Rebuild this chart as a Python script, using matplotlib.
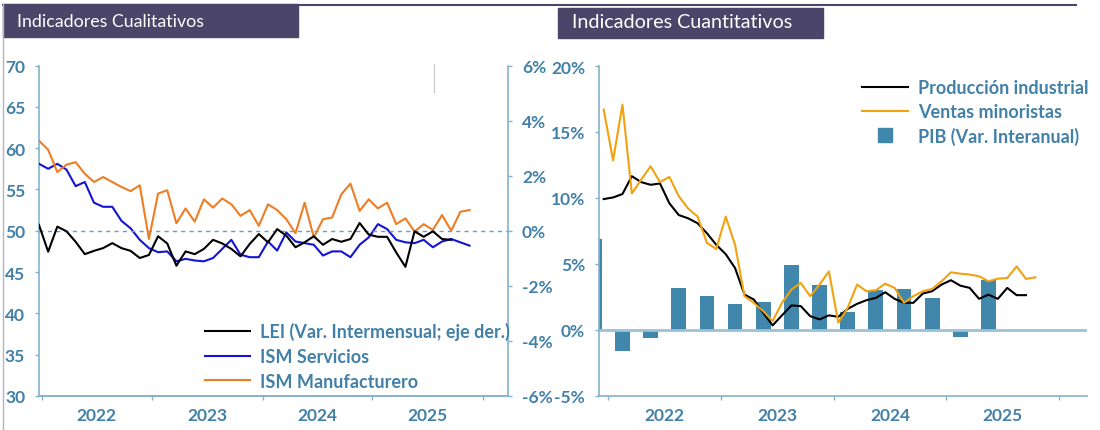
import numpy as np
import matplotlib.pyplot as plt
from matplotlib.lines import Line2D
from matplotlib.patches import Rectangle

# -----------------------------
# DATA
# -----------------------------
# Left panel: monthly, starting Jan 2022
ism_manuf = [60.9, 59.8, 57.1, 58.0, 58.3, 56.9, 55.9, 56.5, 55.9, 55.3, 54.8, 55.5,
             49.0, 54.5, 54.9, 50.9, 52.7, 51.1, 53.8, 52.8, 53.9, 53.2, 51.8, 52.5,
             50.6, 53.2, 52.5, 51.4, 49.7, 53.4, 49.2, 51.4, 51.6, 54.4, 55.7, 52.4,
             53.8, 52.7, 53.4, 50.8, 51.5, 49.9, 50.8, 50.1, 51.9, 50.0, 52.3, 52.5]
ism_serv = [58.1, 57.5, 58.1, 57.4, 55.4, 55.9, 53.4, 52.9, 52.9, 51.2, 50.3, 48.9,
            47.9, 47.4, 47.5, 46.3, 46.6, 46.4, 46.3, 46.7, 47.8, 48.9, 47.1, 46.8,
            46.8, 48.7, 47.6, 49.8, 48.7, 48.5, 48.3, 47.0, 47.5, 47.5, 46.8, 48.3,
            49.2, 50.8, 50.2, 48.9, 48.6, 48.5, 48.9, 48.0, 48.7, 49.0, 48.6, 48.2]
lei = [0.21, -0.76, 0.15, -0.02, -0.40, -0.85, -0.73, -0.63, -0.45, -0.63, -0.73, -0.99,
       -0.88, -0.20, -0.46, -1.27, -0.75, -0.85, -0.66, -0.33, -0.46, -0.66, -0.93, -0.48,
       -0.12, -0.42, 0.06, -0.18, -0.60, -0.42, -0.20, -0.51, -0.30, -0.40, -0.30, 0.28,
       -0.14, -0.22, -0.22, -0.79, -1.31, -0.02, -0.22, -0.02, -0.30, -0.33]

# Right panel: monthly, starting Dec 2021 (index 0)
ventas = [16.7, 12.85, 17.07, 10.34, 11.4, 12.4, 11.2, 11.6, 10.14, 9.2,
          8.6, 6.6, 6.13, 8.59, 6.45, 2.56, 2.06, 1.43, 0.68, 2.06,
          3.06, 3.57, 2.56, 3.44, 4.44, 0.55, 1.68, 3.44, 2.94, 3.01,
          3.51, 3.19, 2.06, 2.56, 2.94, 3.11, 3.69, 4.37, 4.27, 4.2,
          4.07, 3.69, 3.89, 3.94, 4.82, 3.87, 3.99]
prod_ind = [9.92, 10.04, 10.3, 11.65, 11.2, 11.0, 11.1, 9.6, 8.71, 8.46,
            8.09, 7.33, 6.45, 5.75, 4.69, 2.68, 2.31, 1.30, 0.35, 1.11,
            1.86, 1.81, 1.05, 0.8, 1.11, 1.0, 1.6, 1.98, 2.26, 2.43,
            2.86, 2.36, 2.06, 2.06, 2.76, 2.94, 3.44, 3.77, 3.36, 3.19,
            2.36, 2.68, 2.36, 3.19, 2.64, 2.64]
# quarterly GDP, Q4 2021 .. Q2 2025 (plotted at the middle month of each quarter)
gdp_quarters = ["4T21", "1T22", "2T22", "3T22", "4T22", "1T23", "2T23", "3T23",
                "4T23", "1T24", "2T24", "3T24", "4T24", "1T25", "2T25"]
gdp = [6.9, -1.6, -0.6, 3.2, 2.6, 2.0, 2.1, 4.9, 3.4, 1.4, 3.0, 3.1, 2.4, -0.5, 3.8]

years = ["2022", "2023", "2024", "2025"]

# -----------------------------
# STYLE
# -----------------------------
plt.rcParams['font.family'] = ['Lato', 'DejaVu Sans']
plt.rcParams['font.weight'] = 'bold'

AX_COLOR = '#86b1cc'
LBL_COLOR = '#4180a8'
HEADER = '#4b4569'
BAR = '#4087ab'
TICK_FS = 12.5
LEG_FS = 13
W, H = 1100, 431


def fx(x):
    return x / W


def fy(y):
    return 1 - y / H


fig = plt.figure(figsize=(11, 4.31), dpi=100)

# page decorations
fig.add_artist(Line2D([fx(3), fx(1076)], [fy(6), fy(6)], color=HEADER, lw=1.5))
fig.add_artist(Line2D([fx(3), fx(3)], [0, fy(5)], color='#b5b5bd', lw=1))
fig.add_artist(Line2D([fx(434), fx(434)], [fy(65), fy(93)], color='#cfcfcf', lw=1))
fig.add_artist(Rectangle((fx(3), fy(38)), fx(295), 33 / H, color=HEADER))
fig.add_artist(Rectangle((fx(558), fy(38.5)), fx(265), 30 / H, color=HEADER))
fig.text(fx(17), fy(22), "Indicadores Cualitativos", color='white', fontsize=12.8,
         fontweight='normal', va='center')
fig.text(fx(572), fy(23), "Indicadores Cuantitativos", color='white', fontsize=14.2,
         fontweight='normal', va='center')


def style_axis(ax):
    ax.tick_params(axis='both', which='both', direction='out', length=3, width=1,
                   color=AX_COLOR, labelcolor=LBL_COLOR, labelsize=TICK_FS, pad=7)
    ax.tick_params(axis='x', which='minor', length=0, pad=8)
    for s in ax.spines.values():
        s.set_color(AX_COLOR)
        s.set_linewidth(1.2)
    ax.spines['top'].set_visible(False)


# -----------------------------
# LEFT PANEL
# -----------------------------
ax1 = fig.add_axes([fx(39), fy(397), fx(469), 330.5 / H])
x_l = np.arange(len(ism_manuf))
ax1.plot(x_l, ism_serv, color='#1414d6', lw=1.5, zorder=3)
ax1.plot(x_l, ism_manuf, color='#ee7d25', lw=1.5, zorder=3)
ax1.set_ylim(30, 70)
ax1.set_yticks(np.arange(30, 71, 5))
ax1.set_xlim(0, 51.2)
ax1.set_xticks([0.3, 12.3, 24.4, 36.4, 48.5])
ax1.set_xticklabels([])
ax1.set_xticks([6.3, 18.35, 30.4, 42.45], labels=years, minor=True)
style_axis(ax1)
ax1.spines['right'].set_visible(False)

ax1b = ax1.twinx()
ax1b.axhline(0, color='#6f9dbb', lw=1, ls=(0, (3, 3)), zorder=1)
ax1b.plot(np.arange(len(lei)), lei, color='black', lw=1.5, zorder=3)
ax1b.set_ylim(-6, 6)
ax1b.set_yticks(np.arange(-6, 7, 2))
ax1b.set_yticklabels([f"{v}%" for v in range(-6, 7, 2)])
style_axis(ax1b)
ax1b.spines['left'].set_visible(False)

h_left = [Line2D([], [], color='black', lw=1.5),
          Line2D([], [], color='#1414d6', lw=1.5),
          Line2D([], [], color='#ee7d25', lw=1.5)]
fig.legend(h_left, ["LEI (Var. Intermensual; eje der.)", "ISM Servicios", "ISM Manufacturero"],
           loc='upper left', bbox_to_anchor=(fx(204.5), fy(323)), frameon=False,
           fontsize=LEG_FS, handlelength=2.5, handletextpad=0.6, labelspacing=0.43,
           borderpad=0, borderaxespad=0, labelcolor=LBL_COLOR)

# -----------------------------
# RIGHT PANEL
# -----------------------------
ax2 = fig.add_axes([fx(599), fy(397), fx(488), 330 / H])
gdp_x = np.arange(len(gdp_quarters)) * 3 - 1
ax2.bar(gdp_x, gdp, width=1.57, color=BAR, zorder=2)
ax2.axhline(0, color='#9cc2d8', lw=2, zorder=2.5)
ax2.plot(np.arange(len(prod_ind)), prod_ind, color='black', lw=1.5, zorder=3)
ax2.plot(np.arange(len(ventas)), ventas, color='#f2a20f', lw=1.5, zorder=3)
ax2.set_ylim(-5, 20)
ax2.set_yticks(np.arange(-5, 21, 5))
ax2.set_yticklabels([f"{v}%" for v in range(-5, 21, 5)])
ax2.set_xlim(-0.5, 51.5)
ax2.set_xticks([0.5, 12.5, 24.5, 36.5, 48.5])
ax2.set_xticklabels([])
ax2.set_xticks([6.5, 18.5, 30.5, 42.5], labels=years, minor=True)
style_axis(ax2)
ax2.spines['right'].set_visible(False)

h_right = [Line2D([], [], color='black', lw=1.5),
           Line2D([], [], color='#f2a20f', lw=1.5),
           Line2D([], [], color=BAR, marker='s', markersize=10.5, ls='none')]
fig.legend(h_right, ["Producción industrial", "Ventas minoristas", "PIB (Var. Interanual)"],
           loc='upper left', bbox_to_anchor=(fx(861.5), fy(80)), frameon=False,
           fontsize=LEG_FS, handlelength=2.55, handletextpad=0.6, labelspacing=0.38,
           borderpad=0, borderaxespad=0, labelcolor=LBL_COLOR)

fig.savefig("out.png", dpi=100)
